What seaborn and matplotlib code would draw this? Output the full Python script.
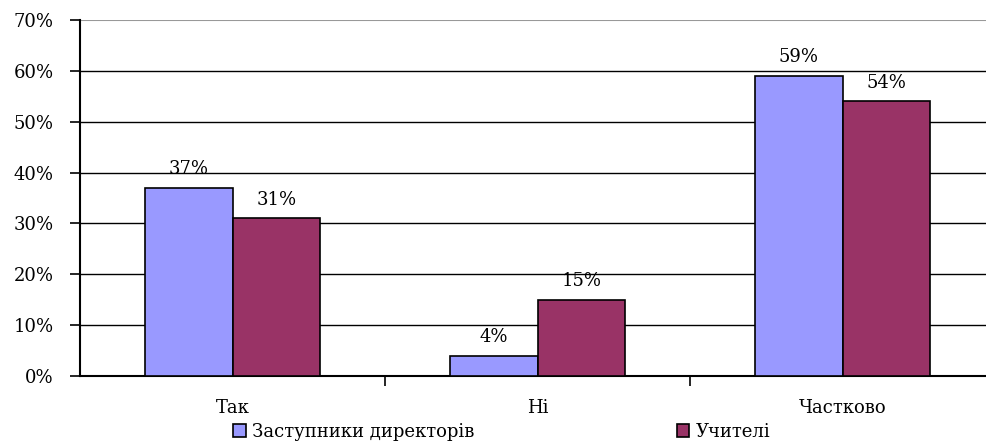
import matplotlib
matplotlib.use("Agg")
import matplotlib.pyplot as plt
import seaborn as sns
import pandas as pd

# data
categories = ["Так", "Ні", "Частково"]
series = ["Заступники директорів", "Учителі"]
deputies = [37, 4, 59]
teachers = [31, 15, 54]
colors = ["#9999FF", "#993366"]

df = pd.DataFrame({
    "cat": categories * 2,
    "group": [series[0]] * 3 + [series[1]] * 3,
    "val": deputies + teachers,
})

sns.set_style("white")
plt.rcParams['font.family'] = ['DejaVu Serif']
plt.rcParams['font.size'] = 13
plt.rcParams['text.color'] = 'black'
plt.rcParams['xtick.color'] = 'black'
plt.rcParams['ytick.color'] = 'black'
plt.rcParams['xtick.labelcolor'] = 'black'
plt.rcParams['ytick.labelcolor'] = 'black'

fig = plt.figure(figsize=(9.87, 4.42), dpi=100)
ax = fig.add_axes([80/987, 1 - 376/442, 915/987, 356/442])

sns.barplot(data=df, x="cat", y="val", hue="group", palette=colors,
            saturation=1, width=0.577, edgecolor="black", linewidth=1.2,
            ax=ax, zorder=3)

for cont in ax.containers:
    ax.bar_label(cont, fmt="%d%%", padding=7, fontsize=13, color="black")

ax.set_xlim(-0.5, 2.5)
ax.set_ylim(0, 70)
ax.set_yticks(range(0, 71, 10))
ax.set_yticklabels([f"{v}%" for v in range(0, 71, 10)])
for v in range(10, 61, 10):
    ax.axhline(v, color="black", linewidth=1, zorder=1)
ax.axhline(70, color="#999999", linewidth=1.5, zorder=1)

ax.set_xlabel("")
ax.set_ylabel("")
for s in ["top", "right"]:
    ax.spines[s].set_visible(False)
ax.spines["left"].set_linewidth(1.5)
ax.spines["bottom"].set_linewidth(1.5)
ax.spines["left"].set_color("black")
ax.spines["bottom"].set_color("black")

ax.tick_params(axis="y", which="major", left=True, length=7, width=1.2, pad=12)
ax.tick_params(axis="x", which="major", bottom=False, pad=13)
ax.set_xticks([0.5, 1.5], minor=True)
ax.tick_params(axis="x", which="minor", bottom=True, length=7, width=1.2)

leg = ax.legend(loc="center left", bbox_to_anchor=(153/915, -56/356), ncol=2,
                frameon=False, fontsize=13, handlelength=0.7, handleheight=0.7,
                handletextpad=0.35, columnspacing=11.2, borderaxespad=0,
                borderpad=0)
for h in leg.legend_handles:
    h.set_edgecolor("black")
    h.set_linewidth(1.2)

fig.savefig("out.png", dpi=100)
